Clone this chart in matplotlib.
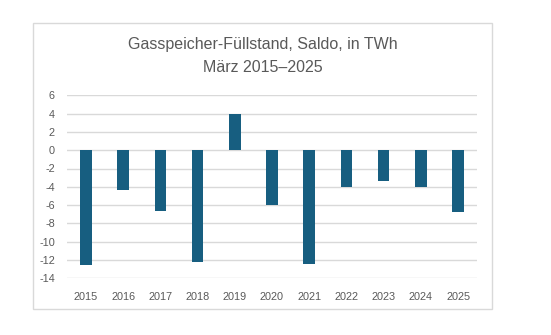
import matplotlib
matplotlib.use('Agg')
import matplotlib.pyplot as plt
import numpy as np
from matplotlib.patches import Rectangle

# Saldo des Gasspeicher-Füllstands im März, in TWh
years = ['2015', '2016', '2017', '2018', '2019', '2020',
         '2021', '2022', '2023', '2024', '2025']
saldo = [-12.5, -4.3, -6.6, -12.2, 4.0, -6.0, -12.4, -4.0, -3.4, -4.0, -6.8]
y_ticks = list(range(-14, 7, 2))

bar_color = '#175E80'
text_color = '#595959'
grid_color = '#D9D9D9'

plt.rcParams['font.family'] = ['Liberation Sans', 'DejaVu Sans']

W, H = 551, 335
fig = plt.figure(figsize=(W / 100, H / 100), dpi=100)
fig.patch.set_facecolor('white')

# Rahmen um das Diagramm
fig.patches.append(Rectangle((33 / W, 1 - 309 / H), (492 - 33) / W, (309 - 23) / H,
                             transform=fig.transFigure, fill=False,
                             edgecolor=grid_color, linewidth=1.0))

ax = fig.add_axes([67.3 / W, 1 - 278.3 / H, (476.7 - 67.3) / W, (278.3 - 95.3) / H])
x = np.arange(len(years))
ax.bar(x, saldo, width=0.31, color=bar_color, zorder=3)

ax.set_xlim(-0.5, len(years) - 0.5)
ax.set_ylim(-14, 6)
ax.set_yticks(y_ticks)
ax.set_yticklabels([str(v) for v in y_ticks])
ax.set_xticks(x)
ax.set_xticklabels(years)
ax.tick_params(axis='both', length=0, labelsize=7.8, labelcolor=text_color)
ax.tick_params(axis='y', pad=9)
ax.tick_params(axis='x', pad=10)
ax.grid(axis='y', color=grid_color, linewidth=1.0, zorder=0)
for s in ax.spines.values():
    s.set_visible(False)

fig.text(262.5 / W, 1 - 44 / H, 'Gasspeicher-Füllstand, Saldo, in TWh',
         ha='center', va='center', fontsize=11.5, color=text_color)
fig.text(262.5 / W, 1 - 68 / H, 'März 2015–2025',
         ha='center', va='center', fontsize=11.5, color=text_color)

fig.savefig('out.png', dpi=100)
